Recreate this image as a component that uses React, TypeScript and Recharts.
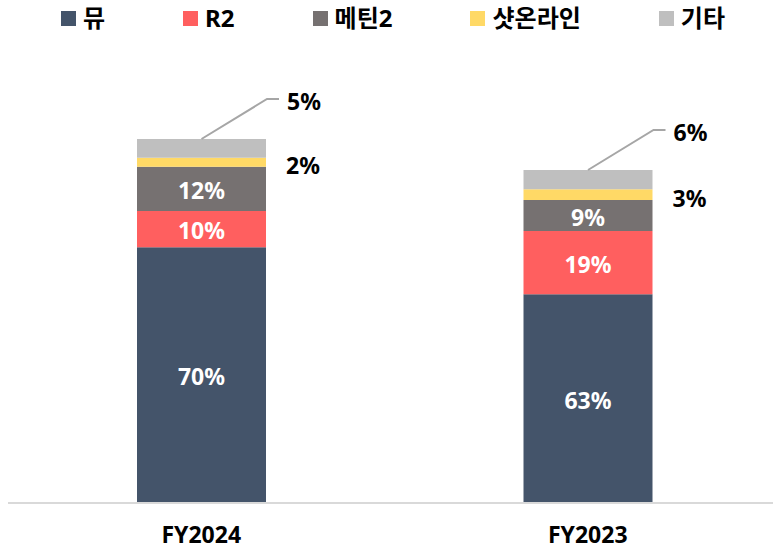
import { BarChart, Bar, XAxis, YAxis, LabelList } from 'recharts'

// 매출 비중 (막대 높이 = 상대 매출 규모)
const categories = ['FY2024', 'FY2023']
const muValues = [255.7, 208.7]
const r2Values = [36.3, 63.3]
const metinValues = [44.3, 31]
const shotValues = [9, 10.7]
const etcValues = [18.7, 19.3]

const muLabels = ['70%', '63%']
const r2Labels = ['10%', '19%']
const metinLabels = ['12%', '9%']
const shotLabels = ['2%', '3%']
const etcLabels = ['5%', '6%']

const series = [
  { key: 'mu', name: '뮤', color: '#44546A' },
  { key: 'r2', name: 'R2', color: '#FF5F5F' },
  { key: 'metin', name: '메틴2', color: '#767171' },
  { key: 'shot', name: '샷온라인', color: '#FFD966' },
  { key: 'etc', name: '기타', color: '#BFBFBF' },
]

const data = categories.map((c, i) => ({
  name: c,
  mu: muValues[i],
  r2: r2Values[i],
  metin: metinValues[i],
  shot: shotValues[i],
  etc: etcValues[i],
}))

const FONT = "'Noto Sans', 'Noto Sans CJK KR', sans-serif"

function innerLabel(labels: string[]) {
  return (props: any) => {
    const { x, y, width, height, index } = props
    return (
      <text x={x + width / 2} y={y + height / 2 + 1} textAnchor="middle" dominantBaseline="central"
        fill="#fff" fontSize={23} fontWeight={700} fontFamily={FONT}>
        {labels[index]}
      </text>
    )
  }
}

function sideLabel(props: any) {
  const { x, y, width, height, index } = props
  return (
    <text x={x + width + 20} y={y + height / 2 + 3} textAnchor="start" dominantBaseline="central"
      fill="#000" fontSize={23} fontWeight={700} fontFamily={FONT}>
      {shotLabels[index]}
    </text>
  )
}

function topLabel(props: any) {
  const { x, y, width, index } = props
  const ey = y - 40
  const ex = x + width + 1
  return (
    <g>
      <polyline points={`${x + width / 2},${y} ${ex},${ey} ${ex + 12},${ey}`} fill="none" stroke="#A6A6A6" strokeWidth={2} />
      <text x={ex + 20} y={ey + 2} textAnchor="start" dominantBaseline="central"
        fill="#000" fontSize={23} fontWeight={700} fontFamily={FONT}>
        {etcLabels[index]}
      </text>
    </g>
  )
}

function CatTick(props: any) {
  const { x, y, payload } = props
  return (
    <text x={x} y={y} dy={32} textAnchor="middle" fill="#000" fontSize={23} fontWeight={700} fontFamily={FONT}>
      {payload.value}
    </text>
  )
}

function Legend() {
  return (
    <div style={{ position: 'absolute', left: 61, top: 3, display: 'flex', alignItems: 'center', whiteSpace: 'nowrap', fontFamily: FONT, fontSize: 24, fontWeight: 700, color: '#000', zIndex: 1 }}>
      {series.map(s => (
        <div key={s.key} style={{ display: 'flex', alignItems: 'center', flexShrink: 0, marginRight: 78 }}>
          <span style={{ width: 15, height: 15, background: s.color, display: 'inline-block', marginRight: 7, flexShrink: 0 }} />
          <span style={{ lineHeight: '30px' }}>{s.name}</span>
        </div>
      ))}
    </div>
  )
}

export default function App() {
  return (
    <div style={{ position: 'absolute', left: 0, top: 0, width: 773, height: 550, overflow: 'hidden', background: '#fff' }}>
      <Legend />
      <BarChart width={781} height={550} data={data} margin={{ top: 103, right: 0, bottom: 0, left: 8 }}>
        <XAxis dataKey="name" height={47} tickLine={false} axisLine={{ stroke: '#D9D9D9', strokeWidth: 2 }} tick={<CatTick />} interval={0} />
        <YAxis hide domain={[0, 400]} />
        <Bar dataKey="mu" stackId="a" fill="#44546A" barSize={129} isAnimationActive={false}>
          <LabelList dataKey="mu" content={innerLabel(muLabels)} />
        </Bar>
        <Bar dataKey="r2" stackId="a" fill="#FF5F5F" barSize={129} isAnimationActive={false}>
          <LabelList dataKey="r2" content={innerLabel(r2Labels)} />
        </Bar>
        <Bar dataKey="metin" stackId="a" fill="#767171" barSize={129} isAnimationActive={false}>
          <LabelList dataKey="metin" content={innerLabel(metinLabels)} />
        </Bar>
        <Bar dataKey="shot" stackId="a" fill="#FFD966" barSize={129} isAnimationActive={false}>
          <LabelList dataKey="shot" content={sideLabel} />
        </Bar>
        <Bar dataKey="etc" stackId="a" fill="#BFBFBF" barSize={129} isAnimationActive={false}>
          <LabelList dataKey="etc" content={topLabel} />
        </Bar>
      </BarChart>
    </div>
  )
}
